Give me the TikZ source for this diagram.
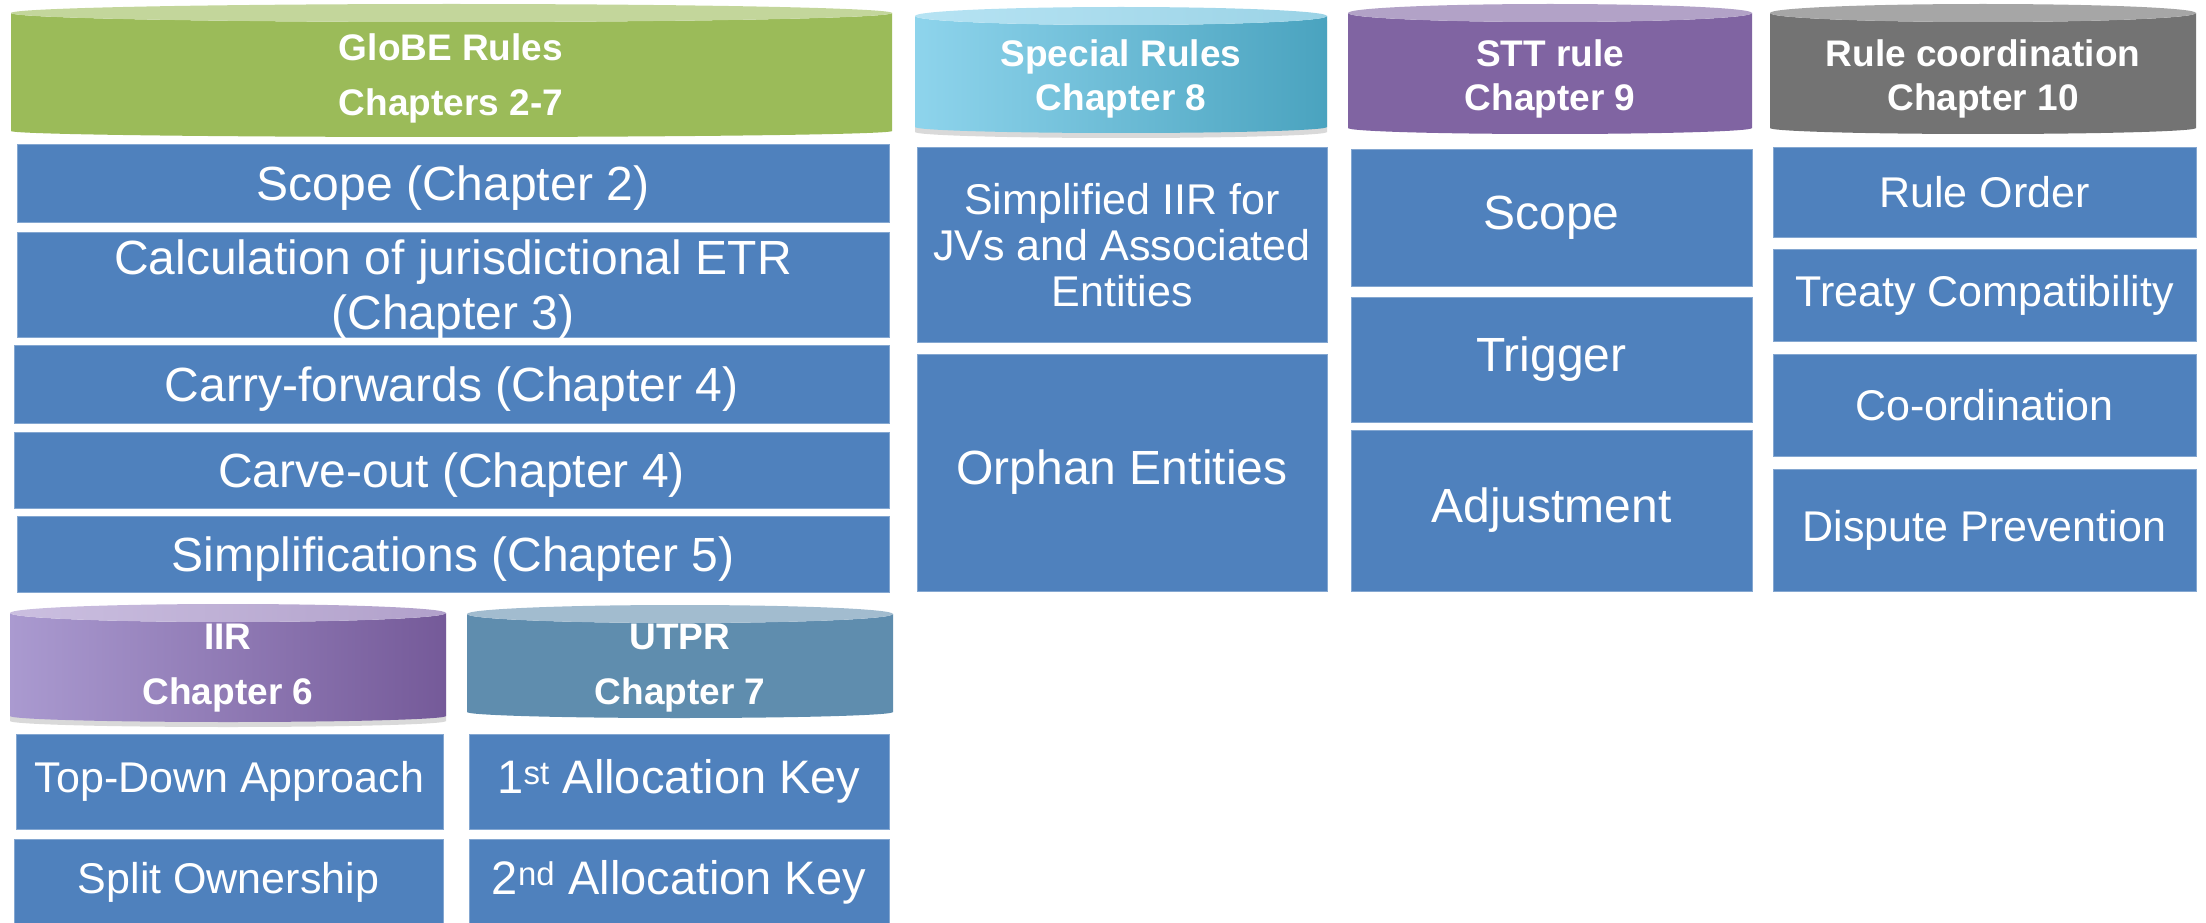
\documentclass[tikz,border=0pt]{standalone}
\usepackage{fontspec}
\setmainfont{Liberation Sans}
\usetikzlibrary{shadows}

\definecolor{boxblue}{HTML}{4F81BD}
\definecolor{globegreen}{HTML}{9BBB59}
\definecolor{globelid}{HTML}{C3D69B}
\definecolor{speciallight}{HTML}{8ED4EC}
\definecolor{specialdark}{HTML}{4AA3BF}
\definecolor{speciallid}{HTML}{B6E3F3}
\definecolor{sttpurple}{HTML}{8064A2}
\definecolor{sttlid}{HTML}{B2A2C7}
\definecolor{coordgrey}{HTML}{737373}
\definecolor{coordlid}{HTML}{A6A6A6}
\definecolor{iirlight}{HTML}{AA9AD0}
\definecolor{iirdark}{HTML}{755A99}
\definecolor{iirlid}{HTML}{CBBFE0}
\definecolor{utprblue}{HTML}{5F8DAE}
\definecolor{utprlid}{HTML}{A2BCCF}

% drum: x left, y top, x right, y bottom, body style, lid style
\newcommand{\drum}[6]{%
  \path[#5] (#1,#2+9) -- (#1,#4-6)
    arc[start angle=180, end angle=0, x radius={(#3-#1)/2}, y radius=6]
    -- (#3,#2+9)
    arc[start angle=0, end angle=180, x radius={(#3-#1)/2}, y radius=9] -- cycle;
  \path[#6] ({(#1+#3)/2},#2+9) ellipse[x radius={(#3-#1)/2}, y radius=9];
}

\begin{document}
\begin{tikzpicture}[x=1pt, y=-1pt,
    box/.style={fill=boxblue, draw=boxblue!70!white, line width=1pt, text=white,
        align=center, inner sep=0pt, font=\fontsize{48}{55}\selectfont},
    boxmain/.style={box, text depth=0pt},
    boxkey/.style={box, font=\fontsize{47}{55}\selectfont},
    boxsmall/.style={box, font=\fontsize{43}{46}\selectfont},
    head/.style={text=white, align=center, font=\bfseries\fontsize{37}{55}\selectfont},
    headtight/.style={head, font=\bfseries\fontsize{37}{44}\selectfont},
    shade/.style={drop shadow={opacity=0.3, shadow xshift=0pt, shadow yshift=-5pt}}]
    \useasboundingbox (0,0) rectangle (2206,923);

    % GloBE rules
    \drum{11}{4}{892}{137}{fill=globegreen}{fill=globelid}
    \node[head] (globe) at (451,78) {GloBE Rules\\Chapters 2-7};
    \node[boxmain, minimum width=872pt, minimum height=77pt] (scope) at (453,183.5) {Scope (Chapter 2)};
    \node[boxmain, minimum width=872pt, minimum height=105pt] (etr) at (453,284.5) {Calculation of jurisdictional ETR\\(Chapter 3)};
    \node[boxmain, minimum width=875pt, minimum height=78pt] (carry) at (451.5,384) {Carry-forwards (Chapter 4)};
    \node[boxmain, minimum width=875pt, minimum height=76pt] (carve) at (451.5,470) {Carve-out (Chapter 4)};
    \node[boxmain, minimum width=872pt, minimum height=76pt] (simpl) at (453,554) {Simplifications (Chapter 5)};

    % IIR and UTPR
    \drum{10}{604}{446}{722}{left color=iirlight, right color=iirdark, shade}{left color=iirlid, right color=iirlid!70!iirdark}
    \node[head] (iir) at (228,668) {IIR\\Chapter 6};
    \node[boxsmall, minimum width=427pt, minimum height=95pt] (topdown) at (229.5,781.5) {Top-Down Approach};
    \node[boxsmall, minimum width=429pt, minimum height=86pt] (split) at (228.5,882) {Split Ownership};
    \drum{467}{605}{893}{718}{fill=utprblue}{fill=utprlid}
    \node[head] (utpr) at (680,668) {UTPR\\Chapter 7};
    \node[boxkey, minimum width=420pt, minimum height=95pt] (firstkey) at (679,781.5) {1\textsuperscript{st} Allocation Key};
    \node[boxkey, minimum width=420pt, minimum height=86pt] (secondkey) at (679,882) {2\textsuperscript{nd} Allocation Key};

    % special rules
    \drum{915}{7}{1327}{133}{left color=speciallight, right color=specialdark, shade}{left color=speciallid, right color=speciallid!75!specialdark}
    \node[headtight] (special) at (1121,79) {Special Rules\\Chapter 8};
    \node[boxsmall, minimum width=410pt, minimum height=194pt] (jv) at (1122,245) {Simplified IIR for\\JVs and Associated\\Entities};
    \node[box, minimum width=410pt, minimum height=237pt] (orphan) at (1122,472.5) {Orphan Entities};

    % STT
    \drum{1348}{4}{1752}{134}{fill=sttpurple}{fill=sttlid}
    \node[headtight] (stt) at (1550,79) {STT rule\\Chapter 9};
    \node[box, minimum width=401pt, minimum height=136pt] (sttscope) at (1551.5,218) {Scope};
    \node[box, minimum width=401pt, minimum height=125pt] (trigger) at (1551.5,359.5) {Trigger};
    \node[box, minimum width=401pt, minimum height=161pt] (adjust) at (1551.5,510.5) {Adjustment};

    % rule coordination
    \drum{1770}{4}{2196}{134}{fill=coordgrey}{fill=coordlid}
    \node[headtight] (coord) at (1983,79) {Rule coordination\\Chapter 10};
    \node[boxsmall, minimum width=423pt, minimum height=89pt] (order) at (1984.5,192.5) {Rule Order};
    \node[boxsmall, minimum width=423pt, minimum height=92pt] (treaty) at (1984.5,295) {Treaty Compatibility};
    \node[boxsmall, minimum width=423pt, minimum height=102pt] (coordination) at (1984.5,405) {Co-ordination};
    \node[boxsmall, minimum width=423pt, minimum height=122pt] (dispute) at (1984.5,530) {Dispute Prevention};
\end{tikzpicture}
\end{document}
